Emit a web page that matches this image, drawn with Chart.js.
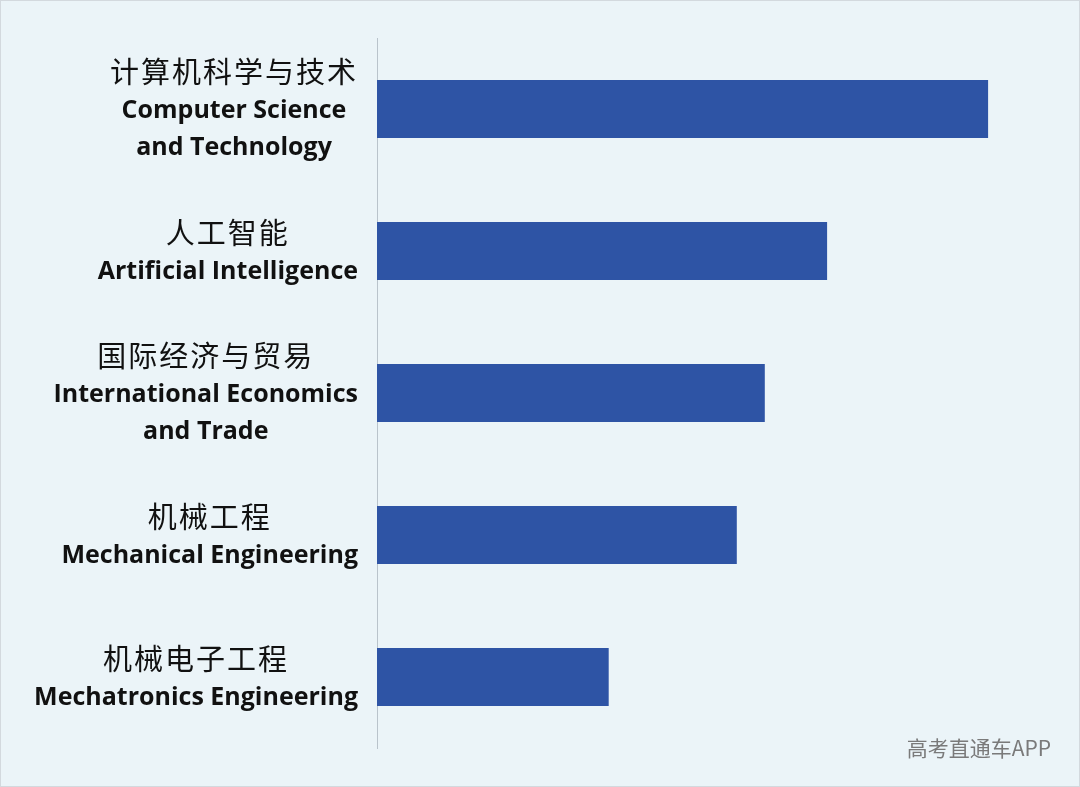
<!DOCTYPE html>
<html>
<head>
<meta charset="utf-8">
<script src="https://cdn.jsdelivr.net/npm/chart.js@4"></script>
<style>
    html, body { margin: 0; padding: 0; background: #ebf4f8; }
    #wrap { width: 1080px; height: 787px; position: relative; box-sizing: border-box; border: 1px solid #d3d9de; }
</style>
</head>
<body>
<div id="wrap"><canvas id="myChart"></canvas></div>
<script>
const categoriesZh = ['计算机科学与技术', '人工智能', '国际经济与贸易', '机械工程', '机械电子工程'];
const categoriesEn = [
    ['Computer Science', 'and Technology'],
    ['Artificial Intelligence'],
    ['International Economics', 'and Trade'],
    ['Mechanical Engineering'],
    ['Mechatronics Engineering']
];
const values = [87.3, 64.3, 55.4, 51.4, 33.1];
const watermark = '高考直通车APP';

const zhFont = '29px "Noto Sans CJK SC"';
const enFont = 'bold 25px "Open Sans"';

// draws the two-language labels next to each bar
const labelPlugin = {
    id: 'labels2',
    afterDraw(chart) {
        const ctx = chart.ctx;
        const y = chart.scales.y;
        const right = y.right - 19;
        ctx.save();
        ctx.fillStyle = '#111';
        ctx.textBaseline = 'middle';
        ctx.textAlign = 'center';
        categoriesZh.forEach((zh, i) => {
            const lines = [{ t: zh, f: zhFont, s: '2px', d: 0 }].concat(categoriesEn[i].map(t => ({ t: t, f: enFont, s: '0px', d: 2 })));
            let maxW = 0;
            lines.forEach(l => {
                ctx.font = l.f;
                ctx.letterSpacing = l.s;
                maxW = Math.max(maxW, ctx.measureText(l.t).width);
            });
            const cx = right - maxW / 2;
            const cy = y.getPixelForValue(i);
            const lh = 37;
            lines.forEach((l, k) => {
                ctx.font = l.f;
                ctx.letterSpacing = l.s;
                ctx.fillText(l.t, cx, cy - (lines.length - 1) * lh / 2 + k * lh + l.d);
            });
        });
        ctx.letterSpacing = '0px';
        ctx.font = '21px "Noto Sans CJK SC"';
        ctx.fillStyle = '#7a7a7a';
        ctx.textAlign = 'right';
        ctx.fillText(watermark, 1050, 747);
        ctx.restore();
    }
};

const myChart = new Chart(document.getElementById('myChart'), {
    type: 'bar',
    data: {
        labels: categoriesZh,
        datasets: [{
            data: values,
            backgroundColor: '#2e54a5',
            barPercentage: 0.41,
            categoryPercentage: 1
        }]
    },
    plugins: [labelPlugin],
    options: {
        indexAxis: 'y',
        responsive: true,
        maintainAspectRatio: false,
        animation: false,
        layout: { padding: { top: 37, bottom: 38, right: 2, left: 0 } },
        plugins: {
            legend: { display: false },
            tooltip: { enabled: false }
        },
        scales: {
            x: { display: false, min: 0, max: 100 },
            y: {
                ticks: { display: false },
                grid: { display: false },
                border: { display: true, color: '#b9c3cb', width: 1 },
                afterFit: s => { s.width = 376; }
            }
        }
    }
});
</script>
</body>
</html>
